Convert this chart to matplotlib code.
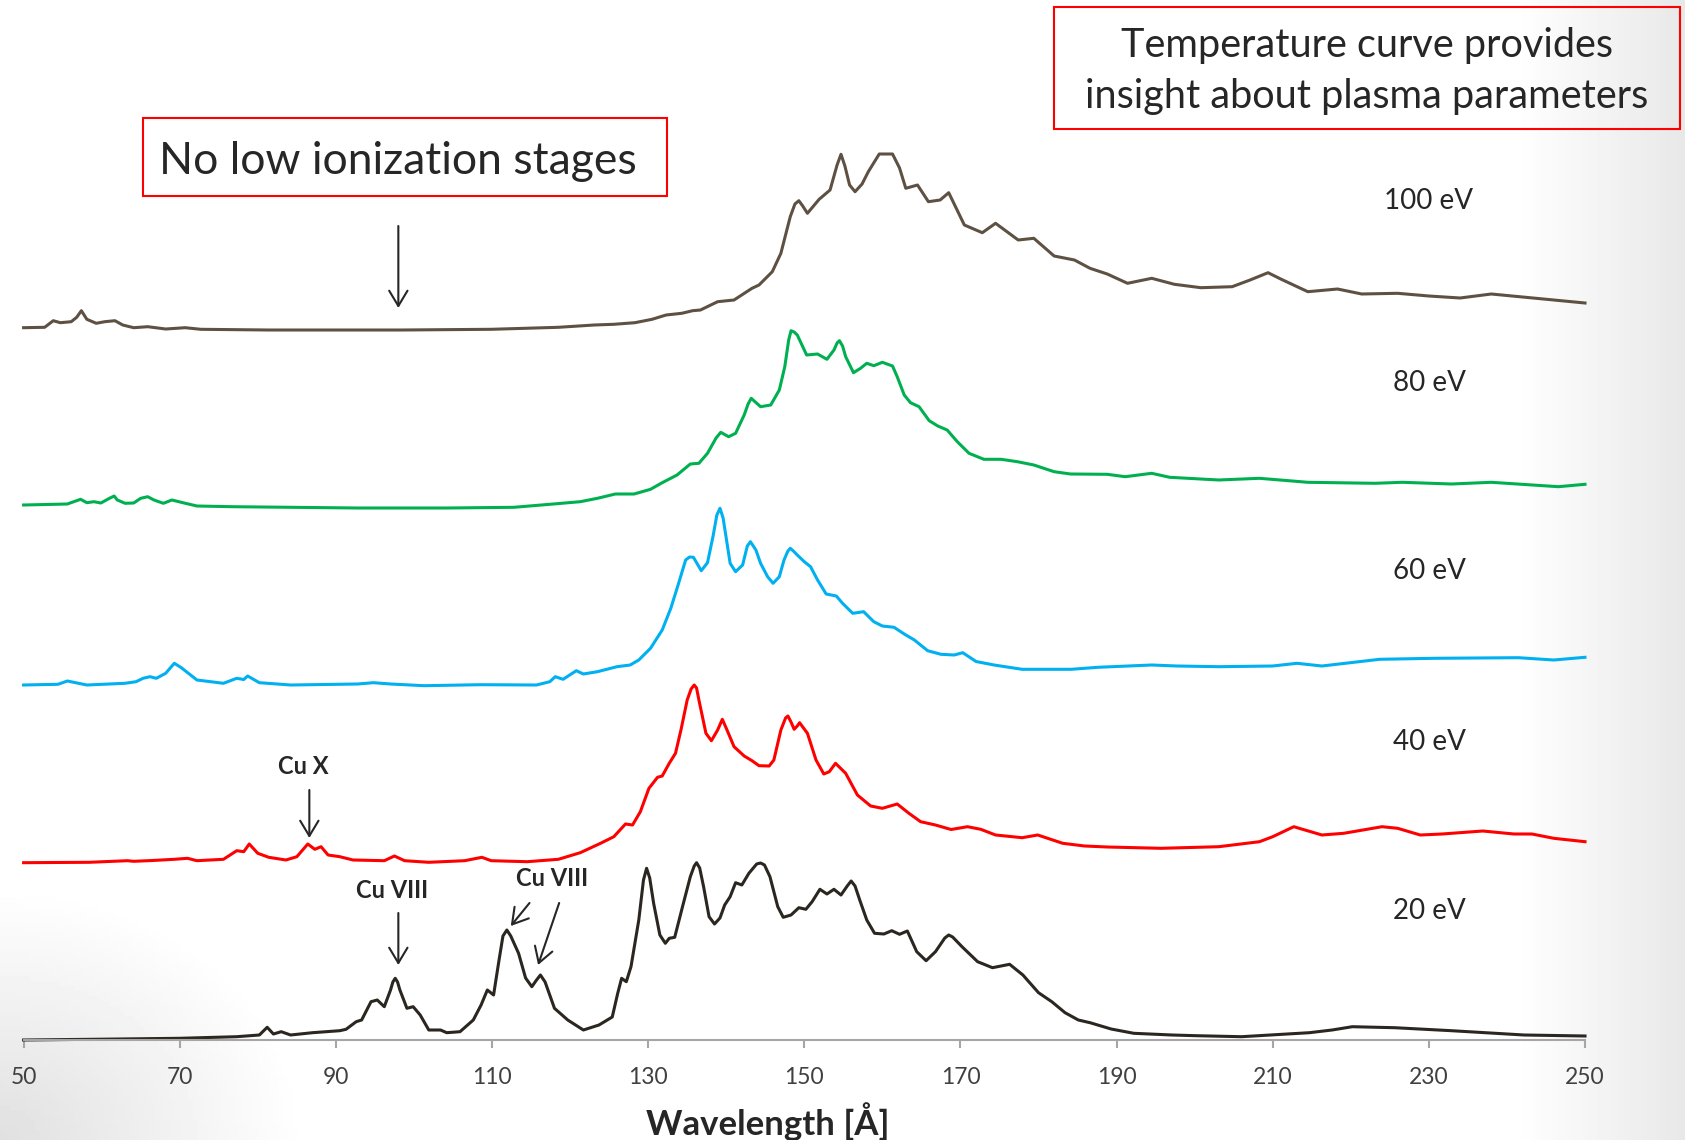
import numpy as np
import matplotlib
matplotlib.use("Agg")
import matplotlib.pyplot as plt
from matplotlib.patches import Rectangle

plt.rcParams['font.family'] = ['Lato', 'DejaVu Sans']

# wavelength [A] and stacked intensity (arbitrary units, offset per spectrum)
wl_20 = [50, 60, 70, 77.3, 80.2, 81.2, 82.0, 83.0, 84.2, 87.0, 90.5, 91.3, 92.6, 93.3, 94.5, 95.3,
         96.2, 97.0, 97.3, 97.6, 97.9, 98.2, 99.1, 99.9, 100.8, 101.9, 103.4, 104.2, 105.9, 107.6,
         108.6, 109.4, 110.2, 110.9, 111.4, 111.9, 112.4, 113.4, 114.3, 115.1, 115.7, 116.2, 116.8,
         118.0, 119.7, 121.7, 123.7, 125.4, 126.1, 126.6, 127.2, 127.8, 128.8, 129.4, 129.8, 130.2,
         130.7, 131.5, 132.2, 132.7, 133.4, 134.4, 135.4, 135.9, 136.2, 136.6, 137.1, 137.8, 138.5,
         139.2, 139.8, 140.5, 141.2, 142.0, 142.9, 143.9, 144.4, 144.9, 145.6, 146.6, 147.3, 148.3,
         149.3, 150.2, 151.0, 152.0, 152.9, 153.8, 154.7, 155.5, 156.0, 156.5, 157.1, 158.0, 159.0,
         160.2, 161.2, 162.2, 163.2, 164.4, 165.6, 166.8, 168.0, 168.5, 169.0, 170.2, 172.2, 174.1,
         176.3, 178.0, 180.0, 181.7, 183.4, 185.1, 186.6, 189.3, 192.2, 197.1, 200.2, 206, 214.7,
         217.6, 220.2, 225.6, 232.9, 242.2, 250]
in_20 = [0, 0.8, 1.7, 3.3, 5, 12.7, 6, 8.3, 5, 7.3, 9.3, 10.7, 18.3, 20, 38.3, 40,
         33.3, 50, 58, 61.7, 58, 50, 31.7, 33.3, 25, 10, 10, 7.3, 8.3, 20,
         35, 50, 45, 80, 104, 110, 104, 86.7, 62, 53.3, 60, 65, 58,
         31.7, 20, 10, 15, 23, 46.7, 61.7, 58.3, 73.3, 120, 160, 171.7, 162,
         136.7, 105, 96.7, 101.7, 102.7, 133.3, 163.3, 174, 177.3, 172, 153.3, 123.3, 116,
         122, 135, 143.3, 157.3, 155, 166.7, 176, 177, 175, 163.3, 133.3, 122.7, 125,
         132.3, 130.7, 138.3, 150.7, 146, 150.7, 145, 154, 159, 154, 140, 120, 106.7,
         106, 109.3, 105.7, 109, 88.3, 79.3, 88.3, 102, 105, 103, 93.3, 78.3, 72.3,
         75.7, 65, 47.3, 38.3, 27.3, 20, 17.3, 11, 6.7, 5, 4.3, 3.3, 7.3,
         10, 13.3, 12.3, 9.3, 5, 4]

wl_40 = [50, 54, 58.4, 63.3, 64.1, 66.5, 69.3, 71.0, 72.2, 75.6, 77.3, 78.2, 78.9, 80.0, 81.4, 83.6,
         85.0, 86.4, 87.3, 88.1, 89.0, 90.5, 92.2, 96.2, 97.5, 98.8, 101.9, 106.5, 108.7, 109.9,
         114.5, 118.5, 121.3, 123.9, 125.6, 127.1, 128.0, 129.0, 130.1, 131.2, 131.8, 132.7, 133.5,
         134.2, 135.0, 135.5, 135.9, 136.2, 136.5, 137.4, 138.1, 138.9, 139.5, 140.1, 141.0, 142.3,
         143.3, 144.2, 145.5, 146.1, 147.0, 147.6, 147.9, 148.3, 148.7, 149.1, 149.4, 150.4, 151.5,
         152.5, 153.2, 154.0, 155.3, 156.8, 158.5, 160.0, 161.9, 163.4, 164.9, 166.8, 168.8, 170.9,
         172.6, 174.5, 177.9, 179.9, 183.1, 185.9, 188.8, 195.7, 203.1, 208.3, 210.0, 212.7, 216.3,
         219.1, 224.0, 226.0, 228.9, 231.7, 236.9, 240.9, 243.2, 246.0, 250]
in_40 = [177.3, 177.5, 177.7, 179.3, 178.7, 179.5, 180.7, 181.7, 179.3, 180.7, 189.3, 188.3, 196, 186.7, 182.7, 180,
         183.3, 196, 190.7, 193.3, 185, 183.3, 180, 179.3, 184, 179.3, 177.7, 179.3, 182.7, 179.3,
         178.3, 180.7, 187.3, 196.7, 203.3, 216, 215, 228.3, 251.7, 262.7, 264, 276.7, 286.7,
         310, 340, 351, 355, 352, 340, 306.7, 299.3, 310, 320.7, 310, 293.3, 284,
         279.3, 274.3, 274, 280, 310, 322, 324, 318, 310.7, 314, 317.3, 306.7, 280,
         266, 268.3, 276.7, 266.7, 245, 234, 231.7, 236, 226.7, 218.3, 215, 210.5, 213.3,
         210.7, 205, 202.3, 205, 196.7, 194, 193, 191.7, 193.3, 198.3, 203.3, 213.3, 205,
         206.7, 213.3, 211.7, 205, 206, 209, 206, 206, 201.7, 198.3]

wl_60 = [50, 54.4, 55.6, 58.1, 63.0, 64.4, 65.3, 66.2, 67.0, 68.2, 69.3, 70.2, 72.2, 75.6, 77.3, 78.2,
         78.7, 80.2, 84.2, 92.8, 94.8, 97.0, 101.3, 108.5, 115.7, 117.4, 118.1, 119.1, 120.8, 121.7,
         123.5, 126.0, 127.7, 128.8, 130.3, 131.8, 132.9, 133.9, 134.8, 135.3, 135.8, 136.8, 137.6,
         138.3, 138.8, 139.2, 139.6, 140.5, 141.2, 142.1, 142.7, 143.1, 143.8, 144.4, 145.3, 146.0,
         146.8, 147.4, 147.9, 148.2, 148.6, 149.1, 150.0, 150.8, 151.7, 152.8, 154.1, 154.9, 156.2,
         157.6, 158.9, 160.0, 161.5, 162.8, 164.1, 165.8, 167.5, 169.2, 170.3, 172.0, 174.3, 177.9,
         184.2, 187.6, 194.5, 197.7, 203.1, 210.0, 213.1, 216.3, 223.7, 230.6, 241.5, 246.0, 250]
in_60 = [355, 355.7, 359, 355, 356.7, 358.3, 361.7, 363.3, 361.7, 366.7, 376.7, 372.3, 360, 356.7, 361.7, 360.5,
         364, 357.3, 355, 356, 357.3, 356, 354.3, 355.3, 355, 358.3, 363.3, 360.7, 369.3, 366,
         368.3, 373.3, 375, 380, 391.7, 410, 431.7, 456.7, 480, 483, 482.7, 469.3, 477.3,
         503.3, 525, 531.7, 522, 476.7, 468.3, 475, 494, 498.3, 490, 476.7, 463.3, 456.7,
         463.3, 480, 489, 491.7, 489, 485, 478.3, 473.3, 460, 446, 444, 436.7, 426.7,
         428.3, 418.3, 414, 412.7, 406, 400, 389.3, 385.7, 385, 387.3, 378.5, 375, 370.7,
         370.7, 372.7, 375, 374, 373.3, 374, 376.7, 374, 380.7, 381.7, 382.3, 380, 382.7]

wl_80 = [50, 55.6, 57.3, 58.1, 59.0, 59.9, 61.0, 61.6, 62.0, 63.0, 64.1, 65.0, 65.9, 66.7, 67.9, 69.0,
         70.4, 72.2, 76.7, 84.2, 92.8, 104.3, 112.8, 117.4, 121.3, 123.5, 125.8, 128.2, 130.3, 131.8,
         133.7, 135.4, 136.5, 137.6, 138.7, 139.3, 140.3, 141.2, 142.3, 142.8, 143.2, 144.4, 145.7,
         146.8, 147.5, 148.0, 148.3, 148.7, 149.1, 150.3, 151.7, 152.9, 153.8, 154.2, 154.5, 154.9,
         155.3, 156.3, 157.2, 158.0, 158.9, 160.0, 161.3, 161.9, 162.8, 163.6, 164.7, 166.0, 167.1,
         168.3, 169.6, 171.1, 173.0, 175.2, 177.3, 179.4, 182.0, 184.1, 188.8, 191.1, 194.5, 196.8,
         203.1, 208.3, 214.5, 223.1, 226.6, 232.9, 238.0, 246.6, 250]
in_80 = [535, 536, 540.7, 537.3, 538.3, 537, 541.7, 544, 540, 536.7, 537, 541.7, 543.3, 540, 536.7, 540,
         537.3, 534, 533.3, 532.7, 532, 532, 532.7, 535.7, 538.3, 541.7, 546, 546, 550.7, 557.3,
         565, 576, 576.7, 586.7, 602, 607.7, 603.3, 606.7, 625, 636, 641.7, 633.3, 635,
         650, 673.3, 700, 709.3, 708, 705, 685, 686, 680.7, 690, 697, 699.3, 694,
         683.3, 667.3, 671.7, 676.7, 674.3, 677.7, 674, 663.3, 645, 637.3, 633.3, 619.3, 614,
         610, 598.3, 586.7, 580.7, 580.7, 578.3, 575, 568.3, 566, 565.7, 563.3, 566.7, 562.7,
         560, 561.7, 557.7, 556.7, 557.7, 556, 557.7, 553.3, 555.7]

wl_100 = [50, 52.7, 53.8, 54.7, 56.1, 56.8, 57.4, 58.1, 59.3, 60.4, 61.7, 62.7, 64.1, 65.9, 68.2, 70.7,
          72.7, 81.3, 98.5, 109.9, 118.5, 123.1, 125.6, 128.3, 130.5, 132.3, 134.3, 135.7, 136.7, 138.9,
          141.0, 143.3, 144.2, 145.9, 147.0, 148.2, 148.8, 149.3, 149.8, 150.4, 151.9, 153.3, 154.2,
          154.7, 155.2, 155.8, 156.5, 157.4, 158.2, 159.6, 161.3, 162.2, 163.0, 164.5, 165.9, 167.4,
          168.5, 170.5, 172.8, 174.5, 177.4, 179.4, 182.0, 184.6, 186.6, 188.8, 191.4, 194.5, 197.4,
          200.8, 204.8, 207.1, 209.4, 211.1, 214.5, 218.3, 221.4, 226.0, 230, 234, 238, 242, 246, 250]
in_100 = [712.3, 712.7, 719.3, 717.3, 718.3, 722.7, 729.3, 720.7, 716.7, 718.3, 719.3, 715, 712.3, 713.3, 711, 712.3,
          710.7, 710, 710, 710.7, 712.7, 715, 715.7, 717.3, 720.7, 725, 726.7, 729.3, 730, 738.3,
          740, 751.7, 755, 768.3, 786.7, 823.3, 836, 839.3, 834, 826.7, 840.7, 850, 875,
          885.7, 874, 855, 848.3, 856, 868.3, 886, 886, 872, 851.7, 855, 838.3, 840,
          847.3, 815, 807.3, 816.7, 800, 801.7, 784, 780, 771.7, 766, 756.7, 761.7, 755.7,
          752.3, 753.3, 760, 767.3, 760.7, 748.3, 751, 746, 746.7, 744, 742, 746, 743, 740, 737]

series = [
    (wl_20, in_20, '#2b2620', '20 eV', 129),
    (wl_40, in_40, '#ff0000', '40 eV', 298),
    (wl_60, in_60, '#00b0f0', '60 eV', 469),
    (wl_80, in_80, '#00b050', '80 eV', 657),
    (wl_100, in_100, '#5e5143', '100 eV', 839),
]

W, H = 1685, 1140
fig = plt.figure(figsize=(W / 100, H / 100), dpi=100)

# slide background: faint grey at the right edge and bottom-left corner
bg = fig.add_axes([0, 0, 1, 1], zorder=-5)
xx, yy = np.meshgrid(np.linspace(0, 1, 340), np.linspace(0, 1, 230))
shade = np.clip((xx - 0.9) / 0.1, 0, 1) * 0.09
shade += np.clip(1 - np.hypot(xx / 0.18, (1 - yy) / 0.22), 0, 1) * 0.12
bg.imshow(1 - shade, cmap='gray', vmin=0, vmax=1, aspect='auto', extent=[0, 1, 0, 1])
bg.axis('off')

ax = fig.add_axes([23.6 / W, 100 / H, (1585 - 23.6) / W, 1040 / H])
ax.patch.set_alpha(0)
for wl, inten, col, lab, ylab in series:
    ax.plot(wl, inten, color=col, lw=2.2, solid_joinstyle='round', clip_on=False)
    fig.text(1429 / W, 1 - (1040 - ylab) / H, lab, fontsize=20, color='#262626',
             ha='center', va='center')

ax.set_xlim(50, 250)
ax.set_ylim(0, 1040)
ax.set_xticks(range(50, 251, 20))
ax.set_yticks([])
for s in ['top', 'right', 'left']:
    ax.spines[s].set_visible(False)
ax.spines['bottom'].set_color('#a6a6a6')
ax.spines['bottom'].set_linewidth(1.5)
ax.tick_params(axis='x', colors='#a6a6a6', length=6, width=1.5, pad=13.5,
               labelsize=16.5, labelcolor='#404040')
fig.text(768 / W, 1 - 1122 / H, 'Wavelength [Å]', fontsize=25, fontweight='bold',
         color='#262626', ha='center', va='center')

arrow = dict(arrowstyle='->,head_length=0.5,head_width=0.3', color='#262626',
             lw=1.5, mutation_scale=22, shrinkA=0, shrinkB=0)
ax.annotate('', xy=(98.0, 732), xytext=(98.0, 814), arrowprops=arrow)
ax.annotate('', xy=(86.6, 202), xytext=(86.6, 250), arrowprops=arrow)
ax.text(85.8, 274, 'Cu X', fontsize=17, fontweight='bold', color='#262626', ha='center', va='center')
ax.annotate('', xy=(98.0, 75), xytext=(98.0, 127), arrowprops=arrow)
ax.text(97.2, 149, 'Cu VIII', fontsize=17, fontweight='bold', color='#262626', ha='center', va='center')
ax.annotate('', xy=(112.4, 114), xytext=(114.8, 137), arrowprops=arrow)
ax.annotate('', xy=(115.9, 75), xytext=(118.6, 137), arrowprops=arrow)
ax.text(117.7, 162, 'Cu VIII', fontsize=17, fontweight='bold', color='#262626', ha='center', va='center')

fig.add_artist(Rectangle((143 / W, 1 - 196 / H), 524 / W, 78 / H, transform=fig.transFigure,
                         fill=False, edgecolor='#ff0000', lw=1.5))
fig.text(398 / W, 1 - 161 / H, 'No low ionization stages', fontsize=32, color='#262626',
         ha='center', va='center')
fig.add_artist(Rectangle((1054 / W, 1 - 129 / H), 626 / W, 121.5 / H, transform=fig.transFigure,
                         fill=False, edgecolor='#ff0000', lw=1.5))
fig.text(1367 / W, 1 - 71 / H, 'Temperature curve provides\ninsight about plasma parameters',
         fontsize=28.5, color='#262626', ha='center', va='center', linespacing=1.46)

fig.savefig('out.png', dpi=100)
